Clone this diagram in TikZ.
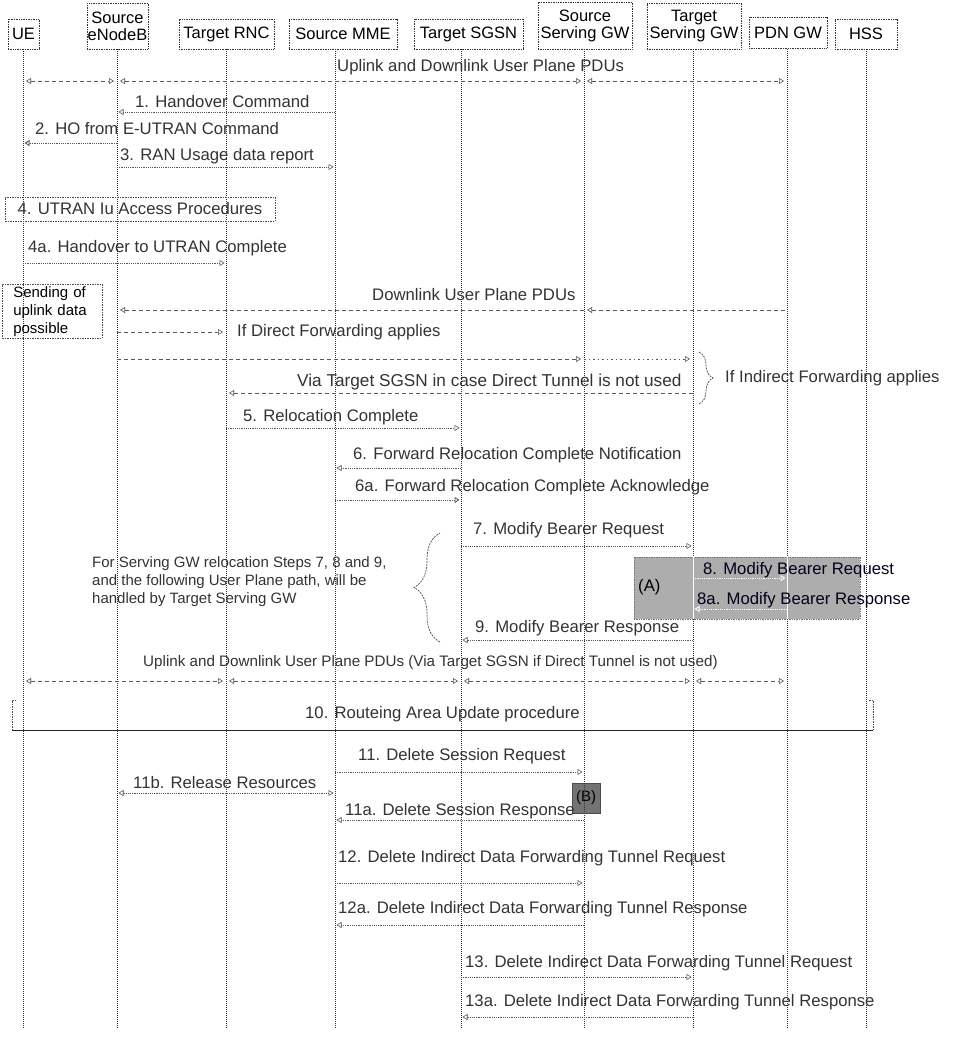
\documentclass[tikz,border=0pt]{standalone}
\usepackage{fontspec}
\setmainfont{Liberation Sans}
\usetikzlibrary{arrows.meta,calc,decorations.pathreplacing}
\begin{document}
\begin{tikzpicture}[x=1pt,y=-1pt,
  hdr/.style={draw=black!80, dash pattern=on 1pt off 0.7pt, line width=0.6pt, inner sep=0pt, align=center, font=\fontsize{16.5}{17}\selectfont},
  life/.style={draw=black!80, line width=0.6pt, dash pattern=on 1pt off 1pt},
  tip/.tip={Triangle[open,length=5pt,width=6pt]},
  msgline/.style={draw=black!65, line width=0.6pt, dash pattern=on 1.2pt off 1pt, -tip, shorten >=1.5pt},
  pdu/.style={draw=black!65, line width=0.6pt, dash pattern=on 4pt off 3pt, tip-tip, shorten >=3pt, shorten <=3pt},
  lbl/.style={anchor=west, inner sep=0pt, text=black!80, font=\fontsize{16.7}{17}\selectfont},
  note/.style={inner sep=0pt, align=left, text=black!80, font=\fontsize{15}{18}\selectfont},
  frame/.style={draw=black!70, line width=0.6pt, dash pattern=on 1.5pt off 1pt},
  brc/.style={draw=black!70, line width=0.7pt, dash pattern=on 2pt off 1pt, decorate},
]
\useasboundingbox (0,0) rectangle (959,1039);

% lifeline coordinates
\coordinate (ue0) at (23,0);
\coordinate (enb0) at (117,0);
\coordinate (rnc0) at (226,0);
\coordinate (mme0) at (335,0);
\coordinate (sgsn0) at (461,0);
\coordinate (ssgw0) at (584,0);
\coordinate (tsgw0) at (693,0);
\coordinate (pgw0) at (787,0);
\coordinate (hss0) at (866,0);

% header boxes
\node[hdr, minimum width=31pt, minimum height=30pt] (ue) at (23.5,34) {UE};
\node[hdr, minimum width=61pt, minimum height=46pt] (enb) at (117.5,26) {Source\\eNodeB};
\node[hdr, minimum width=95pt, minimum height=30pt] (rnc) at (226.5,34) {Target RNC};
\node[hdr, minimum width=108pt, minimum height=30pt] (mme) at (343,34) {Source MME};
\node[hdr, minimum width=109pt, minimum height=30pt] (sgsn) at (468.5,34) {Target SGSN};
\node[hdr, minimum width=94pt, minimum height=47pt] (ssgw) at (585,25.5) {Source\\Serving GW};
\node[hdr, minimum width=94pt, minimum height=46pt] (tsgw) at (694,26) {Target\\Serving GW};
\node[hdr, minimum width=78pt, minimum height=31pt] (pgw) at (788,32.5) {PDN GW};
\node[hdr, minimum width=62pt, minimum height=30pt] (hss) at (866,34) {HSS};

% shaded boxes (below lifelines)
\node[draw=black!55, dash pattern=on 1pt off 0.7pt, fill=black!32, minimum width=226pt, minimum height=62pt, inner sep=0pt] (boxA) at (747,588) {};
\node[draw=black!70, fill=black!55, minimum width=28pt, minimum height=30pt, inner sep=0pt, font=\fontsize{15}{16}\selectfont] (boxB) at (586,798) {(B)};

% lifelines
\foreach \n in {ue0,enb0,rnc0,mme0,sgsn0,ssgw0,tsgw0,pgw0,hss0}
  \draw[life] ($(\n)+(0,49)$) -- ($(\n)+(0,1028)$);
\draw[white, line width=0.8pt] ($(tsgw0)+(0,557)$) -- ($(tsgw0)+(0,619)$);
\draw[white, line width=0.8pt] ($(pgw0)+(0,557)$) -- ($(pgw0)+(0,619)$);

% Uplink and Downlink User Plane PDUs (top)
\node[lbl] (tpdu1) at (337,67) {Uplink and Downlink User Plane PDUs};
\draw[pdu] ($(ue0)+(0,81)$) -- ($(enb0)+(0,81)$);
\draw[pdu] ($(enb0)+(0,81)$) -- ($(ssgw0)+(0,81)$);
\draw[pdu] ($(ssgw0)+(0,81)$) -- ($(pgw0)+(0,81)$);

% 1
\node[lbl] (t1) at (135,102) {1. Handover Command};
\draw[msgline] ($(mme0)+(0,112)$) -- ($(enb0)+(0,112)$);
% 2
\node[lbl] (t2) at (35,129) {2. HO from E-UTRAN Command};
\draw[msgline, line width=0.9pt] ($(enb0)+(0,143)$) -- ($(ue0)+(0,143)$);
% 3
\node[lbl] (t3) at (120,156) {3. RAN Usage data report};
\draw[msgline] ($(enb0)+(0,167)$) -- ($(mme0)+(0,167)$);
% 4
\node[frame, minimum width=270pt, minimum height=24pt, inner sep=0pt, text=black!80, font=\fontsize{16.7}{17}\selectfont] (t4) at (140,209) {4. UTRAN Iu Access Procedures};
% 4a
\node[lbl] (t4a) at (28,248) {4a. Handover to UTRAN Complete};
\draw[msgline] ($(ue0)+(0,263)$) -- ($(rnc0)+(0,263)$);

% Sending of uplink data possible
\node[frame, note, text=black, anchor=north west, text width=78pt, inner xsep=11pt, minimum height=54pt] (send) at (2,284) {Sending of\\uplink data\\possible};

% Downlink User Plane PDUs
\node[lbl] (tdl) at (372,295) {Downlink User Plane PDUs};
\draw[pdu, tip-, shorten >=0pt] ($(ssgw0)+(0,310)$) -- ($(pgw0)+(0,310)$);
\draw[pdu, tip-, shorten >=0pt] ($(enb0)+(0,310)$) -- ($(ssgw0)+(0,310)$);

% Direct forwarding
\draw[pdu, -tip, shorten <=0pt] ($(enb0)+(0,332)$) -- ($(rnc0)+(0,332)$);
\node[lbl] (tdf) at (237,332) {If Direct Forwarding applies};

% Indirect forwarding
\draw[pdu, -tip, shorten <=0pt] ($(enb0)+(0,359)$) -- ($(ssgw0)+(0,359)$);
\draw[pdu, dash pattern=on 1.5pt off 3pt, -tip, shorten <=0pt] ($(ssgw0)+(0,359)$) -- ($(tsgw0)+(0,359)$);
\node[lbl, font=\fontsize{17.2}{18}\selectfont] (tvia) at (297,382) {Via Target SGSN in case Direct Tunnel is not used};
\draw[pdu, -tip, shorten <=0pt] ($(tsgw0)+(0,393)$) -- ($(rnc0)+(0,393)$);
\draw[brc, decoration={brace, amplitude=14pt}] (699,352) -- (699,404);
\node[lbl] (tif) at (725,378) {If Indirect Forwarding applies};

% 5
\node[lbl] (t5) at (243,417) {5. Relocation Complete};
\draw[msgline] ($(rnc0)+(0,428)$) -- ($(sgsn0)+(0,428)$);
% 6
\node[lbl] (t6) at (353,455) {6. Forward Relocation Complete Notification};
\draw[msgline] ($(sgsn0)+(0,468)$) -- ($(mme0)+(0,468)$);
% 6a
\node[lbl] (t6a) at (355,487) {6a. Forward Relocation Complete Acknowledge};
\draw[msgline, line width=0.9pt] ($(mme0)+(0,500)$) -- ($(sgsn0)+(0,500)$);

% 7
\node[lbl] (t7) at (473,530) {7. Modify Bearer Request};
\draw[msgline] ($(sgsn0)+(0,546)$) -- ($(tsgw0)+(0,546)$);
% (A)
\node[lbl, text=black] (tA) at (638,587) {(A)};
% 8
\node[lbl, text=black!90!blue] (t8) at (703,570) {8. Modify Bearer Request};
\draw[msgline, draw=white, line width=0.9pt] ($(tsgw0)+(0,578)$) -- ($(pgw0)+(0,578)$);
% 8a
\node[lbl, text=black!90!blue] (t8a) at (697,600) {8a. Modify Bearer Response};
\draw[msgline, draw=white, line width=0.9pt] ($(pgw0)+(0,609)$) -- ($(tsgw0)+(0,609)$);
% 9
\node[lbl] (t9) at (475,628) {9. Modify Bearer Response};
\draw[msgline] ($(tsgw0)+(0,640)$) -- ($(sgsn0)+(0,640)$);

% left brace and note
\draw[brc, decoration={brace, amplitude=26pt}] (440,642) -- (440,533);
\node[note, anchor=north west] (tnote) at (92,556) {For Serving GW relocation Steps 7, 8 and 9,\\and the following User Plane path, will be\\handled by Target Serving GW};

% Uplink and Downlink (via target SGSN)
\node[lbl, font=\fontsize{15.2}{16}\selectfont] (tpdu2) at (143,663) {Uplink and Downlink User Plane PDUs (Via Target SGSN if Direct Tunnel is not used)};
\draw[pdu] ($(ue0)+(0,681)$) -- ($(rnc0)+(0,681)$);
\draw[pdu] ($(rnc0)+(0,681)$) -- ($(sgsn0)+(0,681)$);
\draw[pdu] ($(sgsn0)+(0,681)$) -- ($(tsgw0)+(0,681)$);
\draw[pdu] ($(tsgw0)+(0,681)$) -- ($(pgw0)+(0,681)$);

% 10 Routeing Area Update
\coordinate (r1) at (16,700);
\coordinate (r2) at (12,700);
\coordinate (r3) at (12,730);
\coordinate (r4) at (873,730);
\coordinate (r5) at (873,700);
\coordinate (r6) at (869,700);
\draw[frame, line width=1pt] (r1) -- (r2) -- (r3);
\draw[frame, line width=1pt] (r4) -- (r5) -- (r6);
\draw[black!85, line width=1pt] (r3) -- (r4);
\node[lbl] (t10) at (305,714) {10. Routeing Area Update procedure};

% 11
\node[lbl] (t11) at (358,756) {11. Delete Session Request};
\draw[msgline] ($(mme0)+(0,772)$) -- ($(ssgw0)+(0,772)$);
% 11b
\node[lbl] (t11b) at (133,783) {11b. Release Resources};
\draw[msgline, tip-tip, shorten <=1.5pt] ($(enb0)+(0,793)$) -- ($(mme0)+(0,793)$);
% 11a
\node[lbl] (t11a) at (345,811) {11a. Delete Session Response};
\draw[msgline] ($(ssgw0)+(0,820)$) -- ($(mme0)+(0,820)$);
% 12
\node[lbl] (t12) at (338,858) {12. Delete Indirect Data Forwarding Tunnel Request};
\draw[msgline] ($(mme0)+(0,883)$) -- ($(ssgw0)+(0,883)$);
% 12a
\node[lbl] (t12a) at (338,909) {12a. Delete Indirect Data Forwarding Tunnel Response};
\draw[msgline] ($(ssgw0)+(0,925)$) -- ($(mme0)+(0,925)$);
% 13
\node[lbl] (t13) at (465,963) {13. Delete Indirect Data Forwarding Tunnel Request};
\draw[msgline] ($(sgsn0)+(0,977)$) -- ($(tsgw0)+(0,977)$);
% 13a
\node[lbl] (t13a) at (465,1002) {13a. Delete Indirect Data Forwarding Tunnel Response};
\draw[msgline] ($(tsgw0)+(0,1017)$) -- ($(sgsn0)+(0,1017)$);
\end{tikzpicture}
\end{document}
